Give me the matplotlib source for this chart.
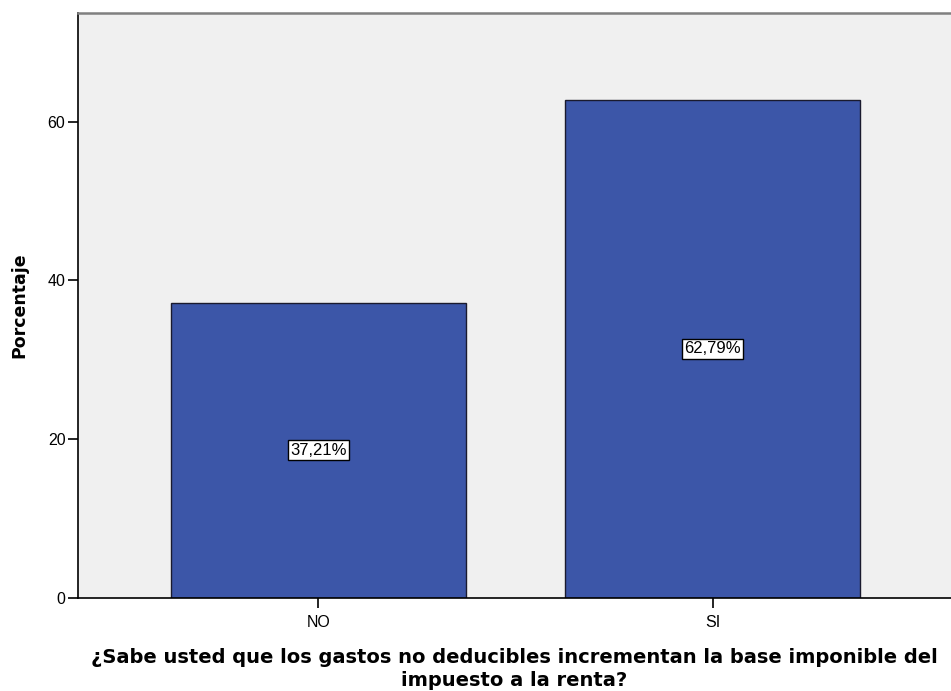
import matplotlib
matplotlib.use("Agg")
import matplotlib.pyplot as plt

plt.rcParams["font.family"] = ["Liberation Sans", "DejaVu Sans"]

categories = ["NO", "SI"]
percentages = [37.21, 62.79]
value_labels = ["37,21%", "62,79%"]
y_ticks = [0, 20, 40, 60]

fig = plt.figure(figsize=(9.51, 6.91), dpi=100)
ax = fig.add_axes([78 / 951, 93 / 691, 1 - 78 / 951, (598 - 13) / 691])
ax.set_facecolor("#f0f0f0")

x = list(range(len(categories)))
ax.bar(x, percentages, width=0.748, color="#3c56a8",
       edgecolor="#1a1a2e", linewidth=1.0, zorder=2)

# percentage boxes sit halfway up each bar
for xi, val, lab in zip(x, percentages, value_labels):
    ax.text(xi, val / 2, lab, ha="center", va="center", fontsize=12,
            color="black", zorder=3,
            bbox=dict(boxstyle="square,pad=0.15", facecolor="white",
                      edgecolor="black", linewidth=1.0))

ax.set_xlim(-0.61, 1.605)
ax.set_ylim(0, 73.7)
ax.set_xticks(x)
ax.set_xticklabels(categories, fontsize=11.5)
ax.set_yticks(y_ticks)
ax.set_yticklabels([str(t) for t in y_ticks], fontsize=11.5)
ax.tick_params(axis="both", direction="out", length=7, width=1.2,
               color="black")
ax.tick_params(axis="x", pad=5)
ax.tick_params(axis="y", pad=2)

for side in ("left", "bottom"):
    ax.spines[side].set_color("black")
    ax.spines[side].set_linewidth(1.2)
ax.spines["top"].set_color("#808080")
ax.spines["top"].set_linewidth(1.8)
ax.spines["right"].set_visible(False)

ax.set_ylabel("Porcentaje", fontsize=12.5, fontweight="bold",
              family="DejaVu Sans", labelpad=14)
ax.set_xlabel("¿Sabe usted que los gastos no deducibles incrementan la base imponible del\n"
              "impuesto a la renta?", fontsize=14, fontweight="bold",
              family="DejaVu Sans", linespacing=1.3, labelpad=13)

fig.savefig("out.png", dpi=100)
